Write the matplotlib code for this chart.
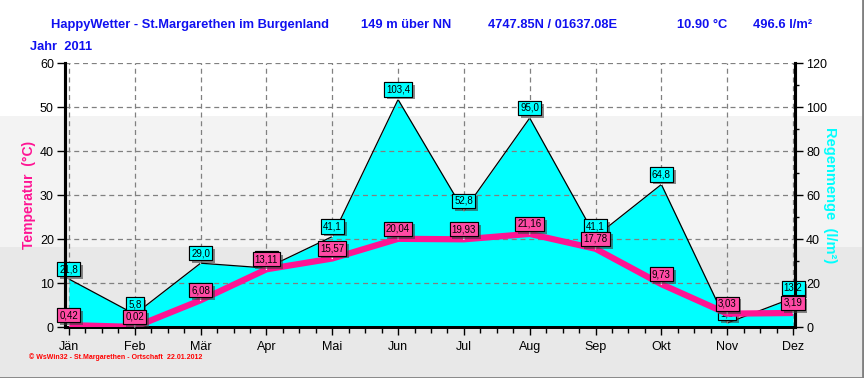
import matplotlib
matplotlib.use("Agg")
import matplotlib.pyplot as plt
from matplotlib.patches import Rectangle
from matplotlib import patheffects
from matplotlib.ticker import MultipleLocator, AutoMinorLocator

months = ["Jän", "Feb", "Mär", "Apr", "Mai", "Jun", "Jul", "Aug", "Sep", "Okt", "Nov", "Dez"]
rain = [21.8, 5.8, 29.0, 26.8, 41.1, 103.4, 52.8, 95.0, 41.1, 64.8, 1.8, 13.2]
temp = [0.42, 0.02, 6.08, 13.11, 15.57, 20.04, 19.93, 21.16, 17.78, 9.73, 3.03, 3.19]

W, H = 864, 378
fig = plt.figure(figsize=(W / 100, H / 100), dpi=100)
fig.patch.set_facecolor("white")

# background bands
fig.patches.append(Rectangle((0, 0), 1, (H - 247) / H, transform=fig.transFigure,
                             facecolor="#e8e8e8", edgecolor="none", zorder=-10))
fig.patches.append(Rectangle((0, (H - 247) / H), 1, (247 - 116) / H, transform=fig.transFigure,
                             facecolor="#f3f3f3", edgecolor="none", zorder=-10))
# border lines right/bottom
fig.add_artist(plt.Line2D([0, 1], [0.5 / H, 0.5 / H], transform=fig.transFigure, color="#808080", lw=2))
fig.add_artist(plt.Line2D([1 - 1 / W, 1 - 1 / W], [0, 1], transform=fig.transFigure, color="#808080", lw=2))

L, R, T, B = 65, 795, 63, 327
ax = fig.add_axes([L / W, (H - B) / H, (R - L) / W, (B - T) / H])
ax2 = ax.twinx()
ax.set_zorder(2)
ax2.set_zorder(1)
ax.patch.set_visible(False)
ax2.patch.set_visible(False)

x = list(range(len(months)))
ax.set_xlim(-0.06, 11.03)
ax.set_ylim(0, 60)
ax2.set_ylim(0, 120)

tickfam = ["Liberation Sans", "DejaVu Sans"]

# grid on ax2 (below data)
ax2.yaxis.set_major_locator(MultipleLocator(20))
ax2.yaxis.set_minor_locator(MultipleLocator(10))
ax2.grid(axis="y", which="major", color="#808080", linestyle=(0, (4, 3)), lw=0.9)
ax2.vlines(x, 0, 120, colors="#808080", linestyles=(0, (4, 3)), lw=0.9, zorder=0.5)

# rain area
ax2.fill_between(x, rain, 0, color="#00ffff", zorder=1, lw=0)
ax2.plot(x, rain, color="black", lw=0.9, zorder=2)

# temperature line
ax.plot(x, temp, color="#ff1493", lw=4.5, zorder=3, solid_capstyle="butt")

shadow = [patheffects.withSimplePatchShadow(offset=(2, -2), shadow_rgbFace="#404040", alpha=0.6),
          patheffects.Normal()]

def label(axis, xi, yi, txt, face, z):
    ann = axis.annotate(txt, (xi, yi), xytext=(0, 3.6), textcoords="offset points",
                        ha="center", va="bottom", fontsize=7, color="black", family=tickfam,
                        bbox=dict(boxstyle="square,pad=0.22", fc=face, ec="black", lw=0.8),
                        arrowprops=dict(arrowstyle="-", color="white", lw=1, shrinkA=0, shrinkB=0),
                        zorder=z, annotation_clip=False)
    ann.get_bbox_patch().set_path_effects(shadow)

for xi, r in zip(x, rain):
    label(ax2, xi, r, f"{r:.1f}".replace(".", ","), "#00ffff", 5)
for xi, t in zip(x, temp):
    label(ax, xi, t, f"{t:.2f}".replace(".", ","), "#ff4aa5", 6)

# axes styling
for a in (ax, ax2):
    a.spines["top"].set_visible(False)
    a.spines["left"].set_linewidth(2.2)
    a.spines["right"].set_linewidth(2.2)
    a.spines["bottom"].set_linewidth(2)

ax.set_xticks(x)
ax.set_xticklabels(months, family=tickfam, fontsize=9)
ax.xaxis.set_minor_locator(AutoMinorLocator(4))
ax.tick_params(axis="x", which="major", length=6, width=1, direction="out", pad=4)
ax.tick_params(axis="x", which="minor", length=4, width=1, direction="out")
ax.yaxis.set_major_locator(MultipleLocator(10))
ax.tick_params(axis="y", which="major", length=6, width=1, direction="out", pad=2)
for lab in ax.get_yticklabels():
    lab.set_fontfamily(tickfam)
    lab.set_fontsize(9)
ax2.tick_params(axis="y", which="major", length=6, width=1, direction="out", pad=2)
ax2.tick_params(axis="y", which="minor", length=3, width=1, direction="out")
for lab in ax2.get_yticklabels():
    lab.set_fontfamily(tickfam)
    lab.set_fontsize(9)

ax.set_ylabel("Temperatur  (°C)", color="#ff1493", fontweight="bold", fontsize=10, family=tickfam)
ax.yaxis.set_label_coords(-0.040, 0.5)
ax2.set_ylabel("Regenmenge  (l/m²)", color="#00ffff", fontweight="bold", fontsize=10.5,
               family=tickfam, rotation=270, va="center")
ax2.yaxis.set_label_coords(1.048, 0.5)

# titles
tfam = ["Liberation Sans", "DejaVu Sans"]
blue = "#1010f0"
yt = 1 - 25 / H
for xpx, s in [(51, "HappyWetter - St.Margarethen im Burgenland"), (361, "149 m über NN"),
               (488, "4747.85N / 01637.08E"), (677, "10.90 °C"), (753, "496.6 l/m²")]:
    fig.text(xpx / W, yt, s, color=blue, fontsize=9.3, fontweight="bold", family=tfam,
             ha="left", va="center")
fig.text(30 / W, 1 - 47 / H, "Jahr  2011", color=blue, fontsize=9.3, fontweight="bold",
         family=tfam, ha="left", va="center")
fig.text(29 / W, 1 - 357 / H, "© WsWin32 - St.Margarethen - Ortschaft  22.01.2012", color="#ff0000",
         fontsize=5, fontweight="bold", family=tfam, ha="left", va="center")

fig.savefig("out.png", dpi=100)
